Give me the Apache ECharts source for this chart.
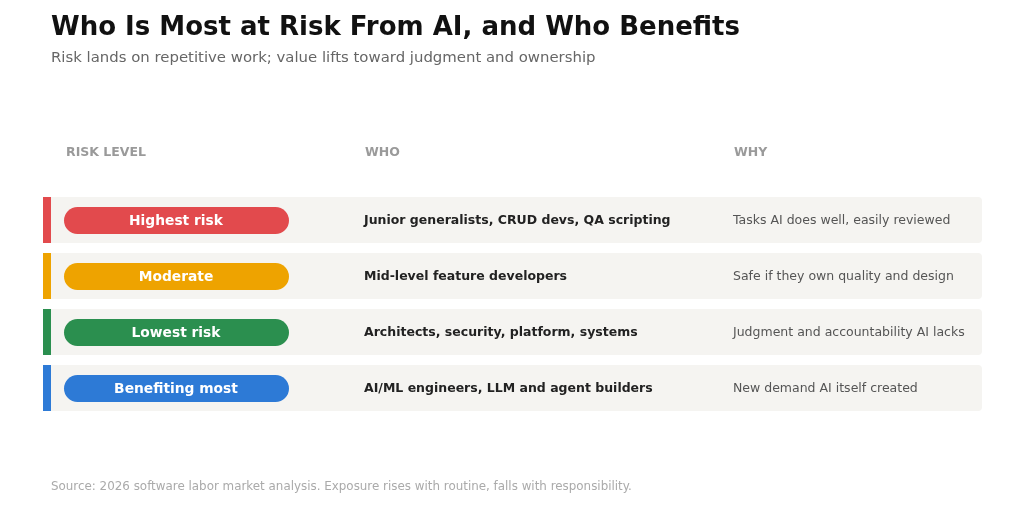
<!DOCTYPE html>
<html>
<head>
<meta charset="utf-8">
<script src="https://cdn.jsdelivr.net/npm/echarts@6/dist/echarts.min.js"></script>
<style>
  html, body { margin: 0; padding: 0; background: #fff; }
  #chart { width: 1024px; height: 512px; }
</style>
</head>
<body>
<div id="chart"></div>
<script>
// table content
var levels = ["Highest risk", "Moderate", "Lowest risk", "Benefiting most"];
var who = [
  "Junior generalists, CRUD devs, QA scripting",
  "Mid-level feature developers",
  "Architects, security, platform, systems",
  "AI/ML engineers, LLM and agent builders"
];
var why = [
  "Tasks AI does well, easily reviewed",
  "Safe if they own quality and design",
  "Judgment and accountability AI lacks",
  "New demand AI itself created"
];
var headers = ["RISK LEVEL", "WHO", "WHY"];
var levelColors = ["#e24a4d", "#eea300", "#2b8f4f", "#2d7ad6"];

var FONT = "DejaVu Sans";

var chart = echarts.init(document.getElementById("chart"));

function renderRow(params, api) {
  var idx = api.value(0);
  var cs = params.coordSys;
  var y = api.coord([0, idx])[1];
  var x0 = cs.x;
  var w = cs.width;
  var col = levelColors[idx];
  return {
    type: "group",
    children: [
      { type: "rect", shape: { x: x0, y: y - 23, width: w, height: 46, r: 4 },
        style: { fill: "#f5f4f1" } },
      { type: "rect", shape: { x: x0, y: y - 23, width: 8, height: 46 },
        style: { fill: col } },
      { type: "rect", shape: { x: x0 + 21, y: y - 13, width: 225, height: 27, r: 13.5 },
        style: { fill: col } },
      { type: "text", x: x0 + 133, y: y + 1.5,
        style: { text: levels[idx], fill: "#fff", font: "bold 13.8px '" + FONT + "'",
                 align: "center", verticalAlign: "middle" } },
      { type: "text", x: x0 + 321, y: y + 0.5,
        style: { text: who[idx], fill: "#222", font: "bold 12.5px '" + FONT + "'",
                 align: "left", verticalAlign: "middle" } },
      { type: "text", x: x0 + 690, y: y + 0.5,
        style: { text: why[idx], fill: "#555", font: "12.5px '" + FONT + "'",
                 align: "left", verticalAlign: "middle" } }
    ]
  };
}

var headerX = [66, 365, 734];

chart.setOption({
  backgroundColor: "#fff",
  animation: false,
  title: {
    text: "Who Is Most at Risk From AI, and Who Benefits",
    subtext: "Risk lands on repetitive work; value lifts toward judgment and ownership",
    left: 46, top: 10, itemGap: 10,
    textStyle: { fontFamily: FONT, fontWeight: "bold", fontSize: 26, color: "#111" },
    subtextStyle: { fontFamily: FONT, fontSize: 14.9, color: "#666" }
  },
  grid: { left: 43, right: 42, top: 192, bottom: 96 },
  xAxis: { type: "value", min: 0, max: 1, show: false },
  yAxis: { type: "category", data: levels, inverse: true, show: false },
  series: [{
    type: "custom",
    renderItem: renderRow,
    data: levels.map(function (_, i) { return [i]; }),
    silent: true
  }],
  graphic: headers.map(function (h, i) {
    return {
      type: "text", left: headerX[i], top: 146,
      style: { text: h, fill: "#9a9a9a", font: "bold 12.5px '" + FONT + "'" }
    };
  }).concat([{
    type: "text", left: 51, top: 481,
    style: {
      text: "Source: 2026 software labor market analysis. Exposure rises with routine, falls with responsibility.",
      fill: "#aaa", font: "11.9px '" + FONT + "'"
    }
  }])
});
</script>
</body>
</html>
